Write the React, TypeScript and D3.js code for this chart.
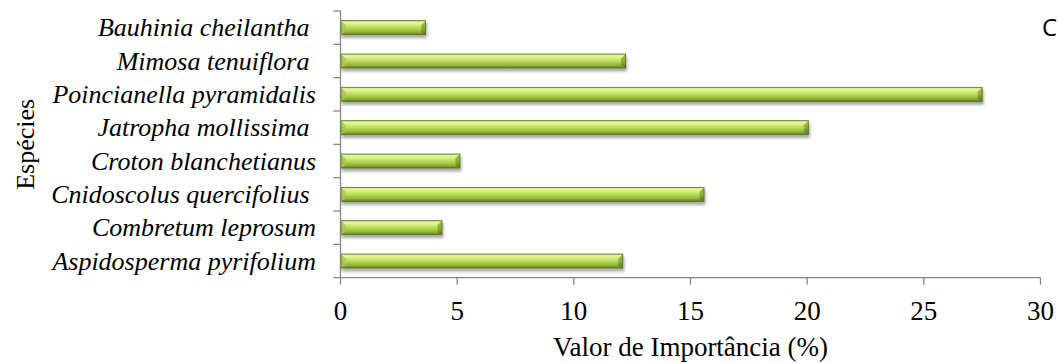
import React from "react";
import * as d3 from "d3";

// Espécies (top to bottom) and their importance values (%)
const species = [
  "Bauhinia cheilantha ",
  "Mimosa tenuiflora ",
  "Poincianella pyramidalis",
  "Jatropha mollissima ",
  "Croton blanchetianus",
  "Cnidoscolus quercifolius ",
  "Combretum leprosum",
  "Aspidosperma pyrifolium",
];
const importance = [3.65, 12.22, 27.5, 20.05, 5.12, 15.58, 4.35, 12.1];
const xTicks = [0, 5, 10, 15, 20, 25, 30];

const W = 1059;
const H = 363;
const plot = { left: 340.5, right: 1040.5, top: 11, bottom: 277.7 };

export default function App() {
  const x = d3.scaleLinear().domain([0, 30]).range([plot.left, plot.right]);
  const y = d3
    .scaleBand<string>()
    .domain(species)
    .range([plot.top, plot.bottom])
    .paddingInner(0.58)
    .paddingOuter(0.29);
  const step = y.step();
  const bh = y.bandwidth();
  const boundaries = d3.range(species.length + 1).map((i) => plot.top + i * step);
  const axisColor = "#878787";
  const serifStyle = { fontFamily: '"Liberation Serif", "DejaVu Serif", serif', fontSize: "26px" };
  const bigSerif = { ...serifStyle, fontSize: "27px" };

  return (
    <div style={{ position: "absolute", left: 0, top: 0 }}>
      <svg width={W} height={H} style={{ display: "block" }}>
        <defs>
          <linearGradient id="barFill" x1="0" y1="0" x2="0" y2="1">
            <stop offset="0%" stopColor="#b9d666" />
            <stop offset="12%" stopColor="#e6f8a2" />
            <stop offset="30%" stopColor="#d4ee7c" />
            <stop offset="55%" stopColor="#b4d650" />
            <stop offset="80%" stopColor="#93b53a" />
            <stop offset="100%" stopColor="#617c22" />
          </linearGradient>
          <linearGradient id="capFill" x1="0" y1="0" x2="0" y2="1">
            <stop offset="0%" stopColor="#9fbd45" />
            <stop offset="50%" stopColor="#8dae37" />
            <stop offset="100%" stopColor="#5c7620" />
          </linearGradient>
          <filter id="shadow" x="-5%" y="-40%" width="110%" height="200%">
            <feGaussianBlur in="SourceAlpha" stdDeviation="1.6" />
            <feOffset dx="0.5" dy="2.5" result="b" />
            <feComponentTransfer>
              <feFuncA type="linear" slope="0.35" />
            </feComponentTransfer>
            <feMerge>
              <feMergeNode />
              <feMergeNode in="SourceGraphic" />
            </feMerge>
          </filter>
        </defs>

        {/* bars */}
        {species.map((s, i) => {
          const x0 = x(0) + 0.5;
          const x1 = x(importance[i]);
          const y0 = y(s)!;
          const y1 = y0 + bh;
          const b = 4.5;
          return (
            <g key={s} filter="url(#shadow)">
              <rect x={x0} y={y0} width={x1 - x0} height={bh} fill="url(#barFill)" />
              <polygon
                points={`${x1 - b},${y0 + b} ${x1},${y0} ${x1},${y1} ${x1 - b},${y1 - b * 0.6}`}
                fill="url(#capFill)"
              />
              <polygon
                points={`${x0},${y0} ${x0 + b},${y0 + b} ${x0 + b},${y1 - b * 0.6} ${x0},${y1}`}
                fill="#a6c64a"
                opacity={0.8}
              />
              <rect
                x={x0}
                y={y0}
                width={x1 - x0}
                height={bh}
                fill="none"
                stroke="#55701f"
                strokeWidth={0.8}
              />
            </g>
          );
        })}

        {/* y axis */}
        <line x1={plot.left} x2={plot.left} y1={plot.top} y2={plot.bottom} stroke={axisColor} strokeWidth={1.3} />
        {boundaries.map((b, i) => (
          <line key={i} x1={plot.left - 7} x2={plot.left} y1={b} y2={b} stroke={axisColor} strokeWidth={1.3} />
        ))}

        {/* x axis */}
        <line x1={plot.left} x2={plot.right} y1={plot.bottom} y2={plot.bottom} stroke={axisColor} strokeWidth={1.3} />
        {xTicks.map((t) => (
          <g key={t}>
            <line x1={x(t)} x2={x(t)} y1={plot.bottom} y2={plot.bottom + 7} stroke={axisColor} strokeWidth={1.3} />
            <text x={x(t)} y={320} textAnchor="middle" style={bigSerif} fill="#000">
              {t}
            </text>
          </g>
        ))}

        {/* species labels */}
        {species.map((s) => (
          <text
            key={s}
            x={316}
            y={y(s)! + bh / 2 + 8.5}
            textAnchor="end"
            style={{ ...serifStyle, fontStyle: "italic", whiteSpace: "pre" }}
            fill="#000"
          >
            {s}
          </text>
        ))}

        {/* axis titles */}
        <text x={690.5} y={356} textAnchor="middle" style={bigSerif} fill="#000">
          Valor de Importância (%)
        </text>
        <text
          transform={`translate(34, ${(plot.top + plot.bottom) / 2}) rotate(-90)`}
          textAnchor="middle"
          style={serifStyle}
          fill="#000"
        >
          Espécies
        </text>

        {/* panel letter */}
        <text
          x={1042}
          y={36}
          style={{ fontFamily: '"Open Sans", "Noto Sans", sans-serif', fontSize: "24px" }}
          fill="#000"
        >
          C
        </text>
      </svg>
    </div>
  );
}
